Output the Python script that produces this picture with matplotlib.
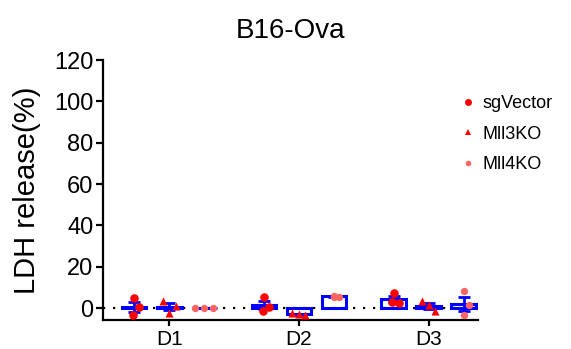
import numpy as np
import matplotlib.pyplot as plt
from matplotlib.lines import Line2D

plt.rcParams["font.family"] = ["Liberation Sans", "DejaVu Sans"]

DAYS = ["D1", "D2", "D3"]
GROUPS = ["sgVector", "Mll3KO", "Mll4KO"]

# LDH release (%) per replicate
SGVECTOR = [[5.0, -3.5, 0.5], [5.5, -1.5, 0.5], [7.5, 3.0, 2.5]]
MLL3KO = [[3.5, -2.5, 1.0], [-2.5, -3.0, -3.5], [3.5, 1.5, -1.5]]
MLL4KO = [[0.2, -0.2, 0.1], [5.5, 6.0, 5.5], [8.0, -3.5, 1.5]]

Y_TICKS = [0, 20, 40, 60, 80, 100, 120]

POINT_COLORS = ["#ff0000", "#ff0000", "#ff6464"]
MARKERS = ["o", "^", "o"]
MARKER_SIZES = [38, 34, 28]
BAR_COLOR = "#0000ff"
OFFSET = 0.27
BAR_WIDTH = 0.19
JITTER = [[0.0, -0.01, 0.04], [-0.05, 0.0, 0.05], [0.0, 0.0, 0.04]]


def main():
    fig = plt.figure(figsize=(5.71, 3.49), dpi=100)
    ax = fig.add_axes([103 / 571, 1 - 320 / 349, 375 / 571, 260 / 349])

    x = np.arange(1, len(DAYS) + 1)
    ax.axhline(0, color="black", linestyle=(0, (1, 3.5)), linewidth=1.6, zorder=1)

    for gi, (name, data) in enumerate(zip(GROUPS, [SGVECTOR, MLL3KO, MLL4KO])):
        pos = x + (gi - 1) * OFFSET
        arr = np.array(data)
        means = arr.mean(axis=1)
        sems = arr.std(axis=1, ddof=1) / np.sqrt(arr.shape[1])
        ax.bar(pos, means, width=BAR_WIDTH, facecolor="none",
               edgecolor=BAR_COLOR, linewidth=2.2, zorder=2)
        ax.errorbar(pos, means, yerr=sems, fmt="none", ecolor=BAR_COLOR,
                    elinewidth=2, capsize=4.5, capthick=2, zorder=3)
        for di, p in enumerate(pos):
            jit = JITTER[gi] if not (gi == 2 and di == 0) else [-0.07, 0.07, 0.0]
            ax.scatter(p + np.array(jit), arr[di], s=MARKER_SIZES[gi],
                       marker=MARKERS[gi], color=POINT_COLORS[gi],
                       linewidths=0, zorder=4)

    ax.set_xlim(0.49, 3.38)
    ax.set_ylim(-5.8, 120)
    ax.set_yticks(Y_TICKS)
    ax.set_xticks(x)
    ax.set_xticklabels(DAYS)
    ax.tick_params(axis="y", labelsize=17, length=5, width=1.6, pad=2)
    ax.tick_params(axis="x", labelsize=15, length=4, width=1.6, pad=3)
    ax.spines["top"].set_visible(False)
    ax.spines["right"].set_visible(False)
    ax.spines["left"].set_linewidth(1.6)
    ax.spines["bottom"].set_linewidth(1.6)
    ax.set_ylabel("LDH release(%)", fontsize=21, labelpad=9)
    ax.set_title("B16-Ova", fontsize=20, pad=16)

    handles = [
        Line2D([], [], linestyle="none", marker=MARKERS[i], color=POINT_COLORS[i],
               markersize=[5, 5, 4][i], markeredgewidth=0)
        for i in range(len(GROUPS))
    ]
    fig.legend(handles, GROUPS, loc="upper left",
               bbox_to_anchor=(452 / 571, 1 - 88 / 349), frameon=False,
               fontsize=13, handlelength=1.0, handletextpad=0.3,
               labelspacing=0.75, borderaxespad=0)

    fig.savefig("out.png", dpi=100)
    plt.close(fig)


if __name__ == "__main__":
    main()
